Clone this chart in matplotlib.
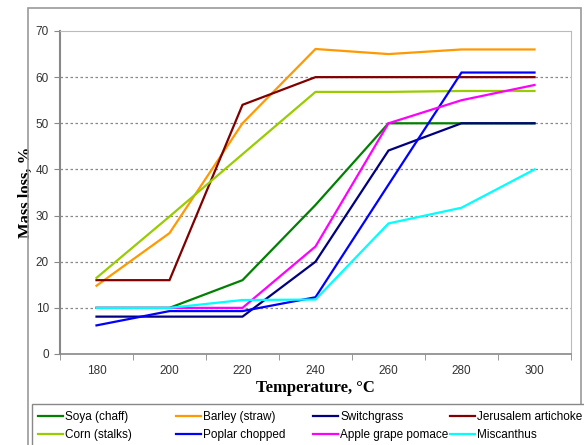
import matplotlib.pyplot as plt
from matplotlib.patches import Rectangle

temps = ["180", "200", "220", "240", "260", "280", "300"]

soya = [10, 10, 16, 32.3, 50, 50, 50]
barley = [14.8, 26.2, 50, 66.1, 65, 66, 66]
switchgrass = [8.1, 8.1, 8.1, 20, 44.1, 50, 50]
jerusalem = [16, 16, 54, 60, 60, 60, 60]
corn = [16.5, 29.8, 43.3, 56.8, 56.8, 57, 57]
poplar = [6.2, 9.3, 9.3, 12.3, 36.7, 61, 61]
apple = [10, 10, 10, 23.3, 50, 55, 58.3]
miscanthus = [10, 10, 11.7, 11.8, 28.3, 31.7, 40]

names = ["Soya (chaff)", "Barley (straw)", "Switchgrass", "Jerusalem artichoke",
         "Corn (stalks)", "Poplar chopped", "Apple grape pomace", "Miscanthus"]
series = [soya, barley, switchgrass, jerusalem, corn, poplar, apple, miscanthus]
colors = ["#008000", "#FF9900", "#000080", "#800000",
          "#99CC00", "#0000FF", "#FF00FF", "#00FFFF"]

fig = plt.figure(figsize=(5.84, 4.45), dpi=100)
ax = fig.add_axes([60 / 584, 1 - 354 / 445, 511 / 584, 323 / 445])

x = list(range(len(temps)))
lines = {}
for name, vals, col in zip(names, series, colors):
    lines[name], = ax.plot(x, vals, color=col, lw=1.6, solid_joinstyle="miter")

ax.set_xlim(-0.5, len(temps) - 0.5)
ax.set_ylim(0, 70)
ax.set_yticks(range(0, 71, 10))
ax.set_xticks(x)
ax.set_xticklabels(temps)
ax.set_xticks([i - 0.5 for i in range(len(temps) + 1)], minor=True)
ax.tick_params(axis="x", which="major", length=0, pad=8)
ax.tick_params(axis="x", which="minor", length=4, color="#888888")
ax.tick_params(axis="y", length=4, color="#888888", pad=4)
for lab in ax.get_xticklabels() + ax.get_yticklabels():
    lab.set_family("Liberation Sans")
    lab.set_fontsize(8.5)
    lab.set_color("#333333")

for v in range(10, 70, 10):
    ax.axhline(v, color="#888888", lw=0.9, ls=(0, (2, 2)), zorder=0)

ax.spines["left"].set_color("#888888")
ax.spines["left"].set_linewidth(1.5)
ax.spines["bottom"].set_color("#888888")
ax.spines["bottom"].set_linewidth(1.2)
ax.spines["top"].set_color("#bbbbbb")
ax.spines["right"].set_color("#bbbbbb")

ax.set_xlabel("Temperature, °C", family="Liberation Serif", fontweight="bold",
              fontsize=12, labelpad=2)
ax.set_ylabel("Mass loss, %", family="Liberation Serif", fontweight="bold",
              fontsize=12, labelpad=1)

# outer chart frame
fig.patches.append(Rectangle((28 / 584, -0.05), 553 / 584, 1 - 8 / 445 + 0.05,
                             transform=fig.transFigure, fill=False,
                             edgecolor="#999999", lw=1.2))
# legend frame
fig.patches.append(Rectangle((32 / 584, -0.05), 0.96, 1 - 404 / 445 + 0.05,
                             transform=fig.transFigure, fill=True, facecolor="white",
                             edgecolor="#888888", lw=1.0, zorder=1))

columns = [["Soya (chaff)", "Corn (stalks)"],
           ["Barley (straw)", "Poplar chopped"],
           ["Switchgrass", "Apple grape pomace"],
           ["Jerusalem artichoke", "Miscanthus"]]
col_x = [38, 176, 313, 450]
for cx, col in zip(col_x, columns):
    lg = fig.legend([lines[n] for n in col], col, loc="upper left",
                    bbox_to_anchor=(cx / 584, 1 - 411 / 445),
                    prop={"family": "Liberation Sans", "size": 8.5},
                    frameon=False, handlelength=2.1, handletextpad=0.2,
                    labelspacing=0.55, borderpad=0, borderaxespad=0)
    lg.set_zorder(3)

fig.savefig("out.png", dpi=100)
